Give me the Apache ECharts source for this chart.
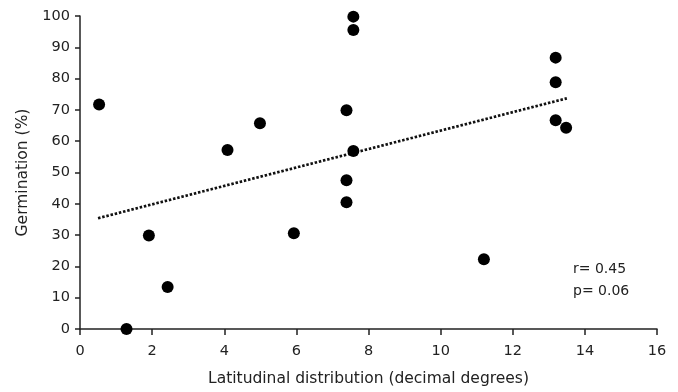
<!DOCTYPE html>
<html><head><meta charset="utf-8">
<script src="https://cdn.jsdelivr.net/npm/echarts@6/dist/echarts.min.js"></script>
<style>html,body{margin:0;padding:0;background:#fff}#c{width:678px;height:392px}</style>
</head><body><div id="c"></div>
<script>
const latitude = [0.53, 1.29, 1.91, 2.43, 4.09, 4.99, 5.93, 7.39, 7.39, 7.39, 7.58, 7.58, 7.58, 11.2, 13.19, 13.19, 13.19, 13.48];
const germination = [71.7, 0, 29.9, 13.4, 57.2, 65.7, 30.6, 69.9, 47.5, 40.5, 99.8, 95.5, 56.9, 22.3, 86.7, 78.8, 66.7, 64.3];
const trendX = [0.5, 13.5];
const trendY = [35.4, 73.7];
const statLines = ['r= 0.45', 'p= 0.06'];

const font = 'DejaVu Sans';
const ink = '#222';
const chart = echarts.init(document.getElementById('c'));
chart.setOption({
  animation: false,
  backgroundColor: '#fff',
  grid: {left: 80, right: 21, top: 16, bottom: 63},
  xAxis: {
    type: 'value', min: 0, max: 16, interval: 2,
    name: 'Latitudinal distribution (decimal degrees)', nameLocation: 'middle', nameGap: 42,
    nameTextStyle: {fontFamily: font, fontSize: 15.5, color: ink},
    axisLine: {lineStyle: {color: ink, width: 1.5}},
    axisTick: {show: true, length: 6, lineStyle: {color: ink, width: 1.5}},
    axisLabel: {fontFamily: font, fontSize: 14.5, color: ink, margin: 15},
    splitLine: {show: false}
  },
  yAxis: {
    type: 'value', min: 0, max: 100, interval: 10,
    name: 'Germination (%)', nameLocation: 'middle', nameGap: 47,
    nameTextStyle: {fontFamily: font, fontSize: 15.5, color: ink},
    axisLine: {show: true, lineStyle: {color: ink, width: 1.5}},
    axisTick: {show: true, length: 5, lineStyle: {color: ink, width: 1.5}},
    axisLabel: {fontFamily: font, fontSize: 14.5, color: ink, margin: 10},
    splitLine: {show: false}
  },
  series: [
    {
      type: 'line', data: trendX.map((x, i) => [x, trendY[i]]),
      symbol: 'none', lineStyle: {type: [2.5, 1.8], width: 2.7, color: '#111'}, z: 1
    },
    {
      type: 'scatter', data: latitude.map((x, i) => [x, germination[i]]),
      symbolSize: 12, itemStyle: {color: '#000', opacity: 1}, z: 3
    }
  ],
  graphic: statLines.map((t, i) => ({
    type: 'text', left: 573, top: 262 + i * 22,
    style: {text: t, font: '14px "DejaVu Sans"', fill: ink}
  }))
});
</script></body></html>
